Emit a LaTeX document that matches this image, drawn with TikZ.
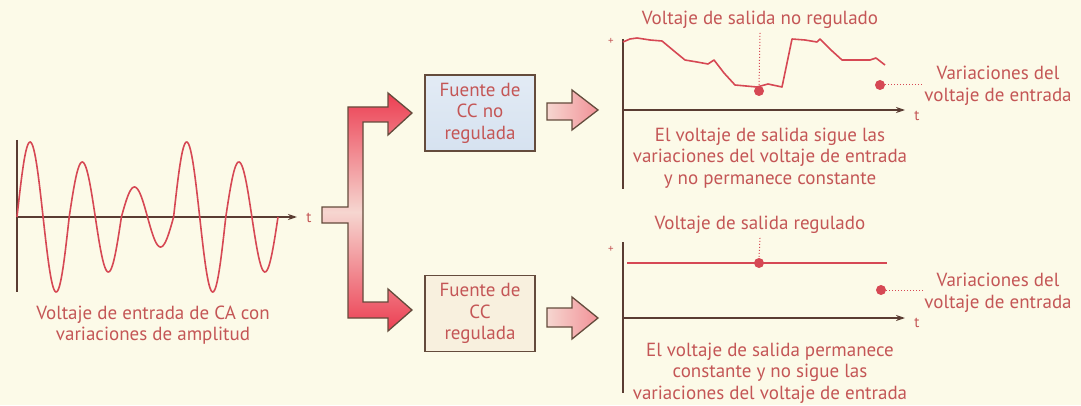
\documentclass[tikz,border=0pt]{standalone}
\usepackage{fontspec}
\setmainfont{PT Sans}
\usetikzlibrary{arrows.meta}
\definecolor{bg}{RGB}{252,250,232}
\definecolor{txt}{RGB}{196,86,86}
\definecolor{axis}{RGB}{90,60,50}
\definecolor{curve}{RGB}{214,72,84}
\definecolor{brd}{RGB}{100,75,60}
\definecolor{hot}{RGB}{236,62,82}
\definecolor{pale}{RGB}{246,214,208}
\definecolor{boxblue}{RGB}{214,226,240}
\definecolor{boxcream}{RGB}{248,240,222}
\tikzset{
  lbl/.style={text=txt,font=\fontsize{19}{21.5}\selectfont,align=center,inner sep=0pt},
  tlbl/.style={text=txt,font=\fontsize{15}{15}\selectfont,inner sep=0pt},
  axisline/.style={draw=axis,line width=1.6pt},
  axisarrow/.style={axisline,-{Stealth[length=9pt,width=6pt]}},
  wave/.style={draw=curve,line width=1.6pt},
  dotline/.style={draw=curve,line width=1pt,dotted},
  reddot/.style={circle,fill=curve,inner sep=0pt,minimum size=10pt},
  fbox/.style={draw=brd,line width=1.4pt,minimum width=110pt,minimum height=76pt,text=txt,font=\fontsize{19}{21.5}\selectfont,align=center},
  blockarrow/.style={draw=brd,line width=1.3pt,line join=miter},
}
\begin{document}
\begin{tikzpicture}[x=1pt,y=1pt]
\fill[bg] (0,0) rectangle (1081,405);
\useasboundingbox (0,0) rectangle (1081,405);

% ---- input waveform ----
\draw[axisline] (17,265) -- (17,113);
\draw[axisarrow] (17,188) -- (297,188);
\node[tlbl] (t0) at (309,187) {t};
\foreach \k/\A in {0/75,1/55,2/30,3/75,4/55}{
  \draw[wave] plot[domain=0:360,samples=60,smooth] ({17+52.2*\k+\x/360*52.2},{188+\A*sin(\x)});
}
\node[lbl] (incap) at (153,80) {Voltaje de entrada de CA con\\variaciones de amplitud};

% ---- branch arrow ----
\path[blockarrow,top color=hot,bottom color=hot,middle color=pale]
 (322,198) -- (348,198) -- (348,298) -- (388,298) -- (388,312) -- (412,292) -- (388,270) -- (388,283)
 -- (363,283) -- (363,103) -- (388,103) -- (388,116) -- (412,95) -- (388,74) -- (388,87)
 -- (348,87) -- (348,182) -- (322,182) -- cycle;

% ---- boxes ----
\node[fbox,top color=boxblue!70!white,bottom color=boxblue] (nr) at (480,292) {Fuente de\\CC no\\regulada};
\node[fbox,fill=boxcream] (rg) at (480,91.5) {Fuente de\\CC\\regulada};

% ---- small arrows ----
\path[blockarrow,left color=pale,right color=hot!45!pale]
 (547,302) -- (572,302) -- (572,315) -- (598,295) -- (572,275) -- (572,285) -- (547,285) -- cycle;
\path[blockarrow,left color=pale,right color=hot!45!pale]
 (547,97) -- (572,97) -- (572,108) -- (598,87) -- (572,66) -- (572,78) -- (547,78) -- cycle;

% ---- top graph ----
\draw[axisline] (623,366) -- (623,216);
\draw[axisarrow] (623,295) -- (905,295);
\node[tlbl,font=\fontsize{11}{11}\selectfont] (p1) at (611,364) {+};
\node[tlbl] (t1) at (917,289) {t};
\draw[wave,line join=round] (623,363) -- (630,366) -- (637,367) -- (650,365) -- (662,364) -- (674,354) -- (685,345)
 -- (697,343) -- (708,341) -- (714,345) -- (724,332) -- (735,320) -- (746,319) -- (757,318) -- (768,321)
 -- (782,318) -- (792,366) -- (805,365) -- (817,363) -- (820,366) -- (831,355) -- (842,345) -- (856,345)
 -- (870,345) -- (876,347) -- (885,340);
\node[lbl] (tt1) at (760,385) {Voltaje de salida no regulado};
\node[reddot] (d1) at (759,314) {};
\draw[dotline] (tt1.south) ++(0,-4) -- (d1.north);
\node[reddot] (e1) at (880,320) {};
\node[lbl] (v1) at (998,319) {Variaciones del\\voltaje de entrada};
\draw[dotline] (e1.east) -- (v1.west |- e1.east);
\node[lbl] (c1) at (770,247) {El voltaje de salida sigue las\\variaciones del voltaje de entrada\\y no permanece constante};

% ---- bottom graph ----
\draw[axisline] (623,163) -- (623,12);
\draw[axisarrow] (623,87) -- (905,87);
\node[tlbl,font=\fontsize{11}{11}\selectfont] (p2) at (611,156) {+};
\node[tlbl] (t2) at (917,82) {t};
\draw[wave] (627,142) -- (887,142);
\node[lbl] (tt2) at (760,180) {Voltaje de salida regulado};
\node[reddot] (d2) at (759,142) {};
\draw[dotline] (tt2.south) ++(0,-4) -- (d2.north);
\node[reddot] (e2) at (881,115) {};
\node[lbl] (v2) at (998,112) {Variaciones del\\voltaje de entrada};
\draw[dotline] (e2.east) -- (v2.west |- e2.east);
\node[lbl] (c2) at (770,32) {El voltaje de salida permanece\\constante y no sigue las\\variaciones del voltaje de entrada};
\end{tikzpicture}
\end{document}
